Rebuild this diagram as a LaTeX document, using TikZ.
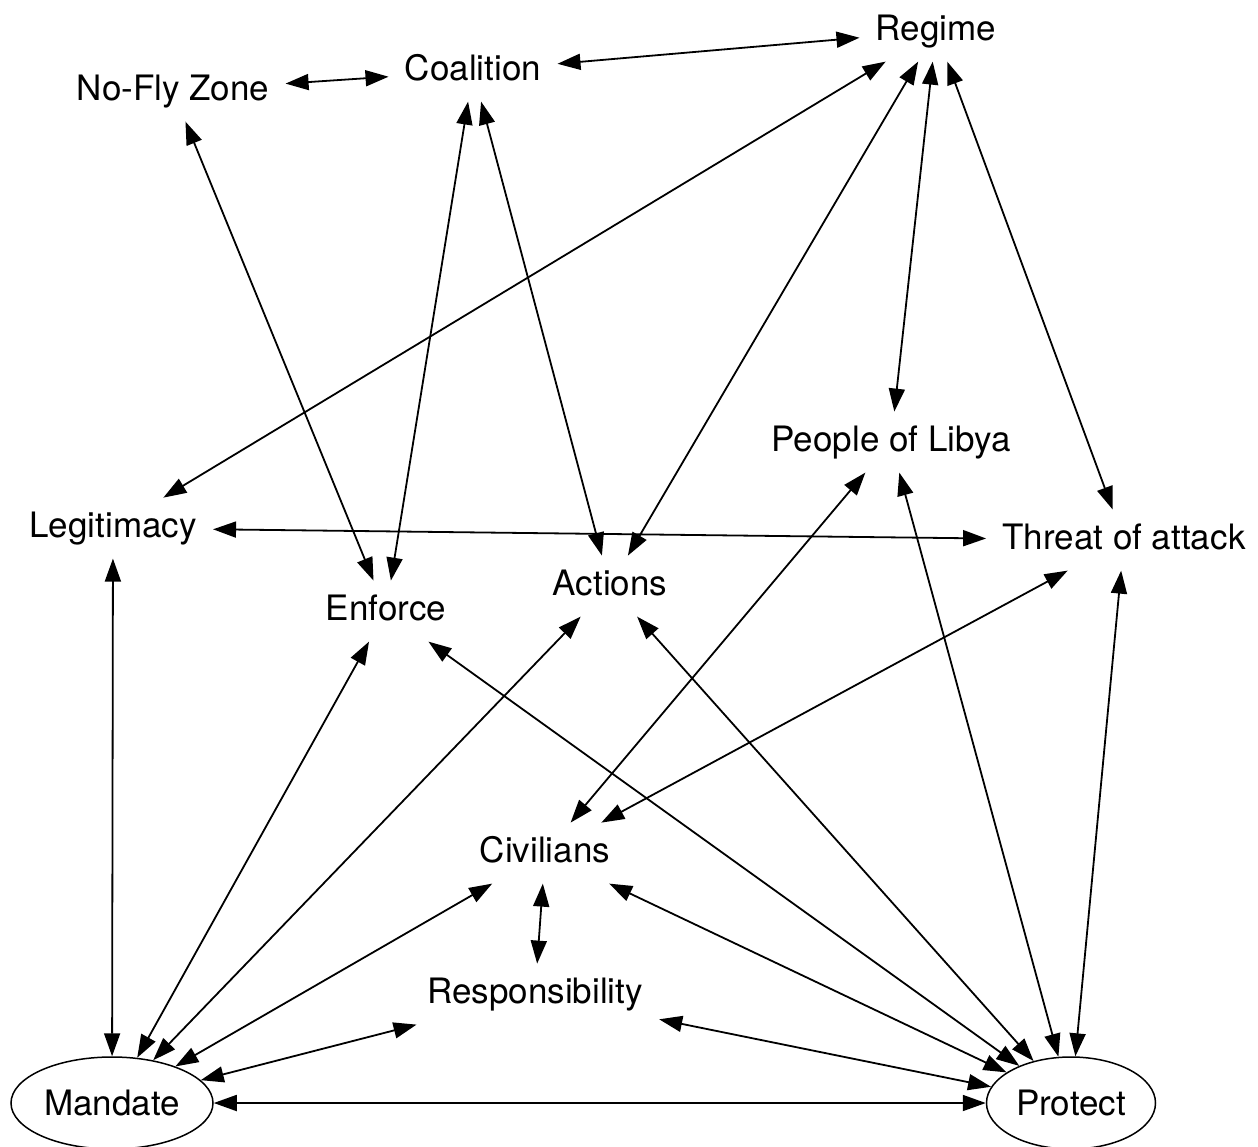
\documentclass[tikz,border=0pt]{standalone}
\usepackage{fontspec}
\setmainfont{TeX Gyre Heros}
\usetikzlibrary{arrows.meta,shapes.geometric}
\tikzset{
  concept/.style={anchor=base, inner xsep=8pt, inner ysep=7pt, text height=12.5pt, text depth=3.6pt, font=\fontsize{17.5}{21}\selectfont},
  goal/.style={concept, anchor=center, text depth=0pt, draw, ellipse, line width=0.75pt, inner sep=0pt, minimum width=#1, minimum height=46pt},
  link/.style={{Triangle[length=11.5pt,width=8pt]}-{Triangle[length=11.5pt,width=8pt]}, line width=0.9pt},
}
\begin{document}
\begin{tikzpicture}[x=0.5pt,y=-0.5pt]
\useasboundingbox (0,0) rectangle (1258,1146);
% concepts
\node[concept] (regime) at (936,40) {Regime};
\node[concept] (coalition) at (473,80) {Coalition};
\node[concept] (nofly) at (173,100) {No-Fly Zone};
\node[concept] (people) at (891,451) {People of Libya};
\node[concept] (legit) at (113,537) {Legitimacy};
\node[concept] (threat) at (1124,549) {Threat of attack};
\node[concept] (actions) at (610,595) {Actions};
\node[concept] (enforce) at (386,620) {Enforce};
\node[concept] (civilians) at (545,862) {Civilians};
\node[concept] (resp) at (535,1003) {Responsibility};
% goals
\node[goal=101pt] (mandate) at (112,1103) {Mandate};
\node[goal=84.5pt] (protect) at (1071,1103) {Protect};
% links
\foreach \a/\b in {nofly/coalition, coalition/regime, nofly/enforce, coalition/enforce,
  coalition/actions, regime/legit, regime/actions, regime/people, regime/threat,
  legit/threat, legit/mandate, enforce/mandate, actions/mandate, enforce/protect,
  actions/protect, people/civilians, people/protect, threat/civilians, threat/protect,
  civilians/mandate, civilians/resp, civilians/protect, resp/mandate, resp/protect,
  mandate/protect}
  \draw[link] (\a) -- (\b);
\end{tikzpicture}
\end{document}
